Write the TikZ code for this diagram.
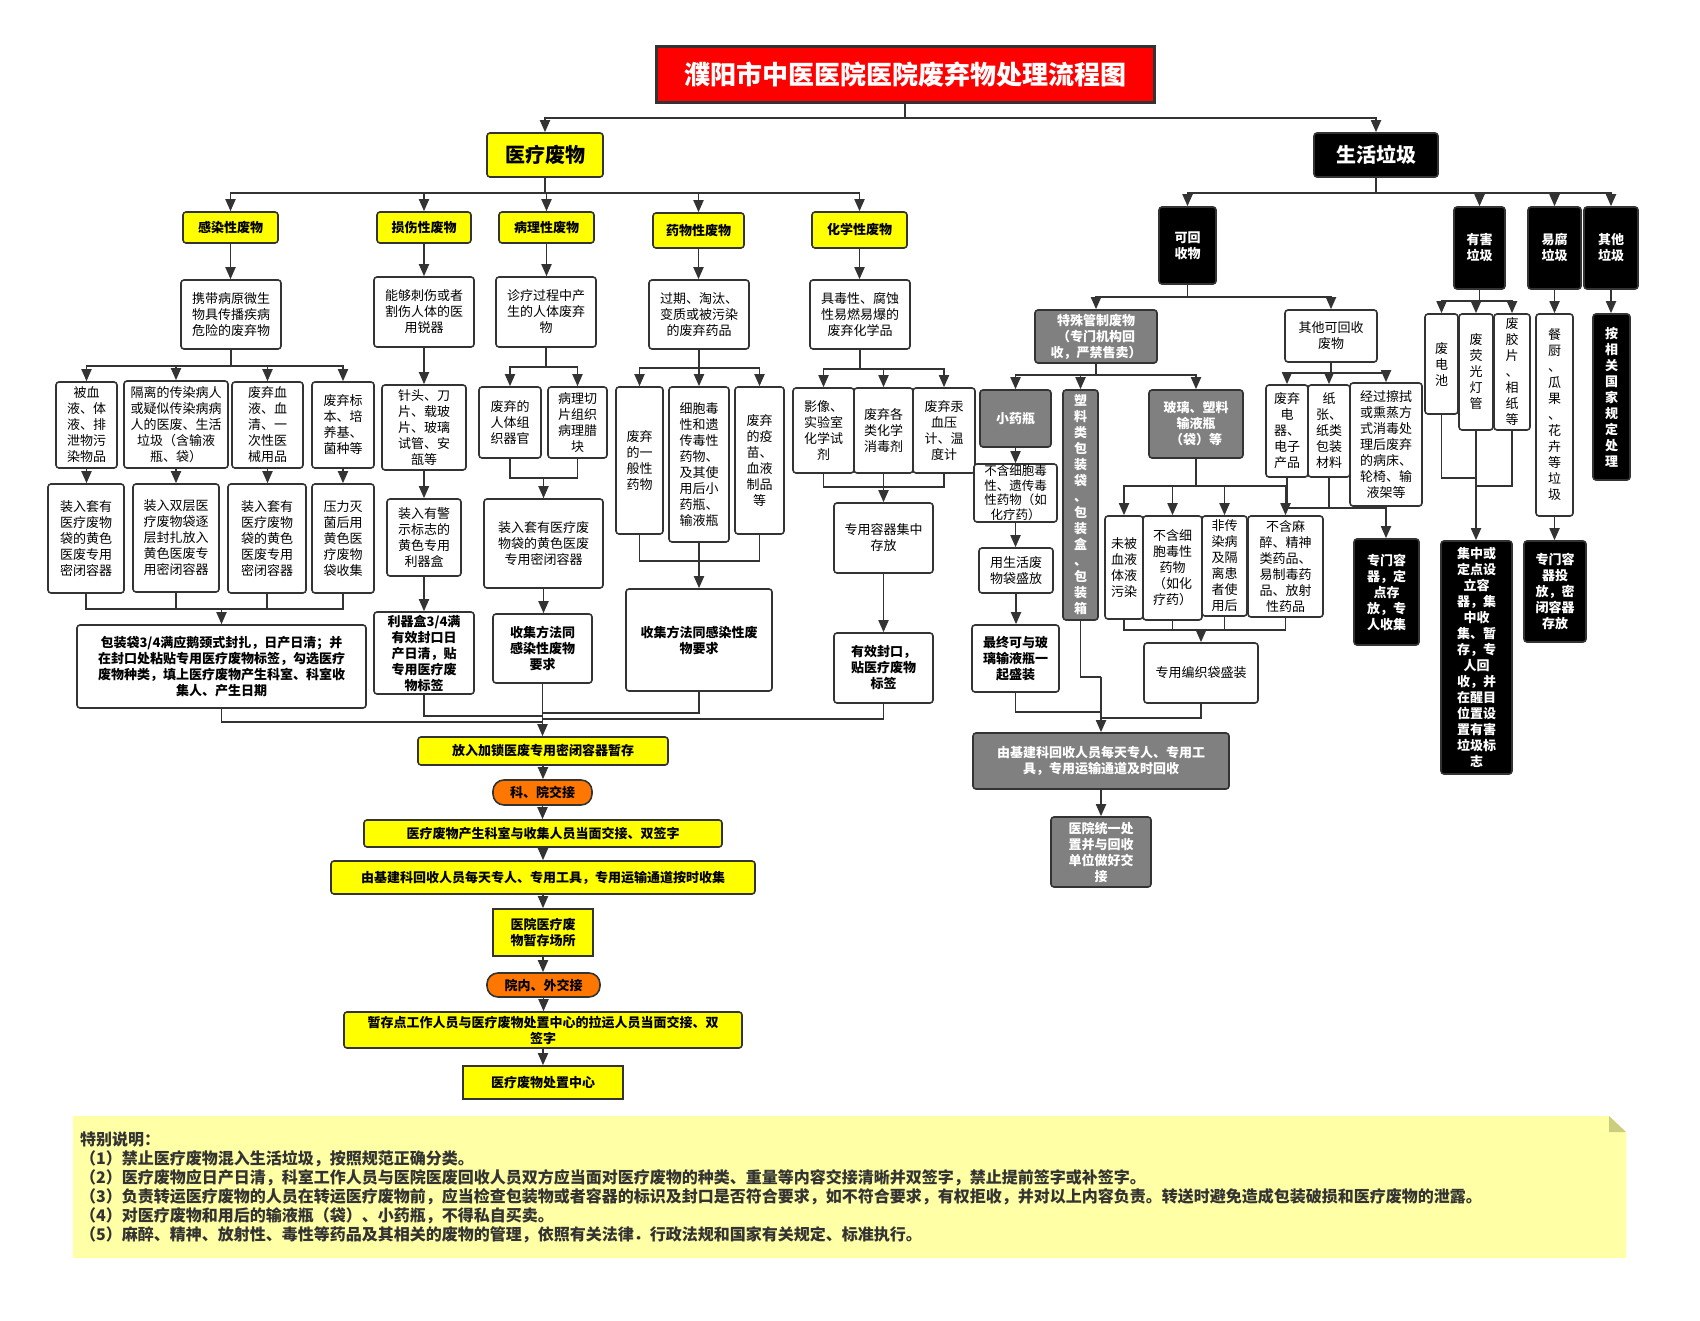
\documentclass[tikz,border=0pt]{standalone}
\usepackage{fontspec}
\setmainfont{Noto Sans CJK SC}
\usetikzlibrary{arrows.meta}
\definecolor{bdr}{HTML}{333333}
\definecolor{yel}{HTML}{FFFF00}
\definecolor{org}{HTML}{FF7700}
\definecolor{gry}{HTML}{808080}
\definecolor{notebg}{HTML}{FFFFA5}
\definecolor{foldc}{HTML}{CDCD80}
\newcommand\Bx[7]{%
 \pgfmathsetmacro\bxw{#5-#3}\pgfmathsetmacro\bxh{#6-#4}%
 \pgfmathsetmacro\bxcx{(#3+#5)/2}\pgfmathsetmacro\bxcy{(#4+#6)/2}%
 \node[#1, minimum width=\bxw pt, minimum height=\bxh pt] (#2) at (\bxcx,\bxcy) {#7};}
\tikzset{
 base/.style={draw=bdr, line width=1.6pt, rounded corners=3pt, align=center, inner sep=1pt, text=black, font=\fontsize{13}{16}\selectfont},
 wb/.style={base, fill=white},
 wbb/.style={base, fill=white, font=\fontsize{13}{16}\selectfont\bfseries},
 yb/.style={base, fill=yel, font=\fontsize{13}{16}\selectfont\bfseries},
 blk/.style={base, fill=black, text=white, font=\fontsize{13}{16}\selectfont\bfseries},
 gb/.style={base, fill=gry, text=white, font=\fontsize{13}{16}\selectfont\bfseries},
 ob/.style={base, fill=org, rounded corners=11pt, font=\fontsize{13}{16}\selectfont\bfseries},
 ln/.style={draw=bdr, line width=1.8pt},
 ar/.style={ln, -{Triangle[width=10pt,length=12pt]}},
}
\begin{document}
\begin{tikzpicture}[x=1pt,y=-1pt]
\fill[white] (0,0) rectangle (1700,1321);
\useasboundingbox (0,0) rectangle (1700,1321);

% ---------- top ----------
\Bx{base, fill=red, rounded corners=0pt, line width=3pt, text=white, font=\fontsize{26}{30}\selectfont\bfseries}{title}{656}{47}{1154}{103}{濮阳市中医医院医院废弃物处理流程图}
\Bx{yb, font=\fontsize{20}{24}\selectfont\bfseries}{med}{487}{133}{603}{177}{医疗废物}
\Bx{blk, font=\fontsize{20}{24}\selectfont\bfseries}{life}{1314}{133}{1438}{177}{生活垃圾}

% ---------- medical level 2 ----------
\Bx{yb}{A}{183}{212}{278}{243}{感染性废物}
\Bx{yb}{B}{377}{212}{471}{243}{损伤性废物}
\Bx{yb}{C}{499}{212}{594}{243}{病理性废物}
\Bx{yb}{D}{653}{213}{744}{248}{药物性废物}
\Bx{yb}{E}{812}{212}{907}{248}{化学性废物}

\Bx{wb}{A1}{181}{280}{281}{349}{携带病原微生\\物具传播疾病\\危险的废弃物}
\Bx{wb}{B1}{374}{277}{474}{347}{能够刺伤或者\\割伤人体的医\\用锐器}
\Bx{wb}{C1}{496}{277}{596}{347}{诊疗过程中产\\生的人体废弃\\物}
\Bx{wb}{D1}{649}{280}{749}{349}{过期、淘汰、\\变质或被污染\\的废弃药品}
\Bx{wb}{E1}{810}{280}{910}{349}{具毒性、腐蚀\\性易燃易爆的\\废弃化学品}

% infectious
\Bx{wb}{A2a}{56}{382}{117}{468}{被血\\液、体\\液、排\\泄物污\\染物品}
\Bx{wb}{A2b}{124}{381}{228}{468}{隔离的传染病人\\或疑似传染病病\\人的医废、生活\\垃圾（含输液\\瓶、袋）}
\Bx{wb}{A2c}{232}{382}{303}{468}{废弃血\\液、血\\清、一\\次性医\\械用品}
\Bx{wb}{A2d}{312}{382}{374}{468}{废弃标\\本、培\\养基、\\菌种等}
\Bx{wb}{A3a}{48}{484}{124}{593}{装入套有\\医疗废物\\袋的黄色\\医废专用\\密闭容器}
\Bx{wb}{A3b}{133}{484}{219}{592}{装入双层医\\疗废物袋逐\\层封扎放入\\黄色医废专\\用密闭容器}
\Bx{wb}{A3c}{228}{484}{306}{593}{装入套有\\医疗废物\\袋的黄色\\医废专用\\密闭容器}
\Bx{wb}{A3d}{312}{484}{374}{593}{压力灭\\菌后用\\黄色医\\疗废物\\袋收集}
\Bx{wbb}{A4}{77}{625}{366}{708}{包装袋3/4满应鹅颈式封扎，日产日清；并\\在封口处粘贴专用医疗废物标签，勾选医疗\\废物种类，填上医疗废物产生科室、科室收\\集人、产生日期}

% sharps
\Bx{wb}{B2}{382}{385}{466}{470}{针头、刀\\片、载玻\\片、玻璃\\试管、安\\瓿等}
\Bx{wb}{B3}{387}{499}{461}{576}{装入有警\\示标志的\\黄色专用\\利器盒}
\Bx{wbb}{B4}{374}{612}{474}{694}{利器盒3/4满\\有效封口日\\产日清，贴\\专用医疗废\\物标签}

% pathological
\Bx{wb}{C2a}{479}{387}{541}{458}{废弃的\\人体组\\织器官}
\Bx{wb}{C2b}{548}{387}{607}{458}{病理切\\片组织\\病理腊\\块}
\Bx{wb}{C3}{484}{499}{603}{588}{装入套有医疗废\\物袋的黄色医废\\专用密闭容器}
\Bx{wbb}{C4}{493}{614}{592}{683}{收集方法同\\感染性废物\\要求}

% pharmaceutical
\Bx{wb}{D2a}{616}{387}{663}{534}{废弃\\的一\\般性\\药物}
\Bx{wb}{D2b}{669}{387}{729}{542}{细胞毒\\性和遗\\传毒性\\药物、\\及其使\\用后小\\药瓶、\\输液瓶}
\Bx{wb}{D2c}{735}{387}{784}{534}{废弃\\的疫\\苗、\\血液\\制品\\等}
\Bx{wbb}{D3}{626}{589}{772}{691}{收集方法同感染性废\\物要求}

% chemical
\Bx{wb}{E2a}{793}{388}{854}{473}{影像、\\实验室\\化学试\\剂}
\Bx{wb}{E2b}{854}{388}{913}{473}{废弃各\\类化学\\消毒剂}
\Bx{wb}{E2c}{913}{388}{975}{473}{废弃汞\\血压\\计、温\\度计}
\Bx{wb}{E3}{834}{503}{933}{573}{专用容器集中\\存放}
\Bx{wbb}{E4}{834}{633}{933}{703}{有效封口，\\贴医疗废物\\标签}

% flow
\Bx{yb}{F1}{418}{737}{668}{765}{放入加锁医废专用密闭容器暂存}
\Bx{ob}{F2}{493}{780}{592}{805}{科、院交接}
\Bx{yb}{F3}{364}{820}{722}{847}{医疗废物产生科室与收集人员当面交接、双签字}
\Bx{yb}{F4}{331}{861}{755}{894}{由基建科回收人员每天专人、专用工具，专用运输通道按时收集}
\Bx{yb, rounded corners=0pt}{F5}{493}{909}{593}{956}{医院医疗废\\物暂存场所}
\Bx{ob}{F6}{487}{973}{600}{997}{院内、外交接}
\Bx{yb}{F7}{344}{1012}{742}{1048}{暂存点工作人员与医疗废物处置中心的拉运人员当面交接、双\\签字}
\Bx{yb, rounded corners=0pt}{F8}{463}{1066}{623}{1099}{医疗废物处置中心}

% ---------- domestic ----------
\Bx{blk}{R1}{1159}{207}{1216}{284}{可回\\收物}
\Bx{blk}{R2}{1454}{207}{1505}{289}{有害\\垃圾}
\Bx{blk}{R3}{1528}{207}{1581}{289}{易腐\\垃圾}
\Bx{blk}{R4}{1584}{207}{1638}{289}{其他\\垃圾}

\Bx{gb}{R1a}{1035}{310}{1157}{363}{特殊管制废物\\（专门机构回\\收，严禁售卖）}
\Bx{wb}{R1b}{1285}{310}{1377}{362}{其他可回收\\废物}

\Bx{gb}{S1}{980}{390}{1051}{447}{小药瓶}
\Bx{gb}{S2}{1063}{390}{1098}{620}{塑\\料\\类\\包\\装\\袋\\、\\包\\装\\盒\\、\\包\\装\\箱}
\Bx{gb}{S3}{1149}{390}{1243}{458}{玻璃、塑料\\输液瓶\\（袋）等}
\Bx{wb, font=\fontsize{12.5}{14.5}\selectfont}{S1a}{974}{464}{1057}{522}{不含细胞毒\\性、遗传毒\\性药物（如\\化疗药）}
\Bx{wb}{S1b}{979}{548}{1053}{593}{用生活废\\物袋盛放}
\Bx{wbb}{S1c}{972}{625}{1059}{692}{最终可与玻\\璃输液瓶一\\起盛装}
\Bx{wb}{S3a}{1105}{516}{1143}{619}{未被\\血液\\体液\\污染}
\Bx{wb}{S3b}{1143}{516}{1202}{620}{不含细\\胞毒性\\药物\\（如化\\疗药）}
\Bx{wb}{S3c}{1202}{516}{1247}{616}{非传\\染病\\及隔\\离患\\者使\\用后}
\Bx{wb}{S3d}{1248}{516}{1323}{617}{不含麻\\醉、精神\\类药品、\\易制毒药\\品、放射\\性药品}
\Bx{wb}{S3e}{1144}{643}{1258}{703}{专用编织袋盛装}
\Bx{gb}{G1}{973}{733}{1229}{789}{由基建科回收人员每天专人、专用工\\具，专用运输通道及时回收}
\Bx{gb}{G2}{1051}{817}{1151}{887}{医院统一处\\置并与回收\\单位做好交\\接}

\Bx{wb}{T1}{1266}{385}{1308}{477}{废弃\\电\\器、\\电子\\产品}
\Bx{wb}{T2}{1308}{385}{1350}{477}{纸\\张、\\纸类\\包装\\材料}
\Bx{wb}{T3}{1350}{383}{1422}{506}{经过擦拭\\或熏蒸方\\式消毒处\\理后废弃\\的病床、\\轮椅、输\\液架等}
\Bx{blk}{T4}{1354}{539}{1419}{645}{专门容\\器，定\\点存\\放，专\\人收集}

\Bx{wb}{H1}{1425}{314}{1458}{414}{废\\电\\池}
\Bx{wb}{H2}{1459}{314}{1493}{430}{废\\荧\\光\\灯\\管}
\Bx{wb}{H3}{1494}{314}{1530}{430}{废\\胶\\片\\、\\相\\纸\\等}
\Bx{blk}{H4}{1441}{541}{1512}{774}{集中或\\定点设\\立容\\器，集\\中收\\集、暂\\存，专\\人回\\收，并\\在醒目\\位置设\\置有害\\垃圾标\\志}
\Bx{wb}{Y1}{1536}{314}{1573}{516}{餐\\厨\\、\\瓜\\果\\、\\花\\卉\\等\\垃\\圾}
\Bx{blk}{Y2}{1524}{541}{1586}{642}{专门容\\器投\\放，密\\闭容器\\存放}
\Bx{blk}{Z1}{1593}{314}{1630}{480}{按\\相\\关\\国\\家\\规\\定\\处\\理}

% ---------- connectors ----------
\draw[ar] (title.south) -- (title.south |- 0,118) -| (med.north);
\draw[ar] (title.south) -- (title.south |- 0,118) -| (life.north);
\foreach \n in {A,B,C,D,E} \draw[ar] (med.south) -- (med.south |- 0,193) -| (\n.north);
\foreach \n in {R1,R2,R3,R4} \draw[ar] (life.south) -- (life.south |- 0,193) -| (\n.north);
\foreach \a/\b in {A/A1,B/B1,C/C1,D/D1,E/E1,B1/B2,B2/B3,B3/B4,C3/C4,E3/E4,
  A2a/A3a,A2b/A3b,A2c/A3c,A2d/A3d,F1/F2,F2/F3,F3/F4,F4/F5,F5/F6,F6/F7,F7/F8,
  S1/S1a,S1a/S1b,S1b/S1c,G1/G2,R3/Y1,Y1/Y2,R4/Z1,T3/T4,H2/H4,C4/F1}
  \draw[ar] (\a.south) -- (\a.south |- \b.north);
% infectious
\foreach \n in {A2a,A2b,A2c,A2d} \draw[ar] (A1.south) -- (A1.south |- 0,366) -| (\n.north);
\foreach \n in {A3a,A3b,A3c,A3d} \draw[ln] (\n.south) |- (A4.north |- 0,609);
\draw[ar] (A4.north |- 0,609) -- (A4.north);
% pathological
\foreach \n in {C2a,C2b} \draw[ar] (C1.south) -- (C1.south |- 0,367) -| (\n.north);
\foreach \n in {C2a,C2b} \draw[ln] (\n.south) |- (C3.north |- 0,478);
\draw[ar] (C3.north |- 0,478) -- (C3.north);
% pharmaceutical
\foreach \n in {D2a,D2b,D2c} \draw[ar] (D1.south) -- (D1.south |- 0,368) -| (\n.north);
\foreach \n in {D2a,D2b,D2c} \draw[ln] (\n.south) |- (D3.north |- 0,561);
\draw[ar] (D3.north |- 0,561) -- (D3.north);
% chemical
\foreach \n in {E2a,E2b,E2c} \draw[ar] (E1.south) -- (E1.south |- 0,369) -| (\n.north);
\foreach \n in {E2a,E2b,E2c} \draw[ln] (\n.south) |- (E3.north |- 0,487);
\draw[ar] (E3.north |- 0,487) -- (E3.north);
% into F1
\draw[ln] (A4.south) |- (F1.north |- 0,722);
\draw[ln] (B4.south) |- (F1.north |- 0,716);
\draw[ln] (D3.south) |- (F1.north |- 0,713);
\draw[ln] (E4.south) |- (F1.north |- 0,719);
% recyclable
\foreach \n in {R1a,R1b} \draw[ar] (R1.south) -- (R1.south |- 0,297) -| (\n.north);
\foreach \n in {S1,S2,S3} \draw[ar] (R1a.south) -- (R1a.south |- 0,375) -| (\n.north);
\foreach \n in {S3a,S3b,S3c,S3d} \draw[ar] (S3.south) -- (S3.south |- 0,486) -| (\n.north);
\foreach \n in {S3a,S3b,S3c,S3d} \draw[ln] (\n.south) |- (S3e.north |- 0,630);
\draw[ar] (S3e.north |- 0,630) -- (S3e.north);
\draw[ln] (S1c.south) |- (G1.north |- 0,712);
\draw[ln] (S2.south) |- (G1.north |- 0,677);
\draw[ln] (S3e.south) |- (G1.north |- 0,718);
\draw[ar] (G1.north |- 0,677) -- (G1.north);
\foreach \n in {T1,T2,T3} \draw[ar] (R1b.south) -- (R1b.south |- 0,373) -| (\n.north);
\foreach \n in {T1,T2} \draw[ln] (\n.south) |- (T4.north |- 0,508);
% hazardous
\foreach \n in {H1,H2,H3} \draw[ar] (R2.south) -- (R2.south |- 0,301) -| (\n.north);
\draw[ln] (H1.south) |- (H4.north |- 0,478);
\draw[ln] (H3.south) |- (H4.north |- 0,486);

% ---------- notes ----------
\fill[notebg] (73,1116) -- (1609,1116) -- (1626,1132) -- (1626,1258) -- (73,1258) -- cycle;
\fill[foldc] (1609,1116) -- (1609,1132) -- (1626,1132) -- cycle;
\node[anchor=north west, align=left, inner sep=0pt, text=bdr, font=\fontsize{16}{19}\selectfont\bfseries] (notes) at (80,1132)
 {特别说明：\\
 （1）禁止医疗废物混入生活垃圾，按照规范正确分类。\\
 （2）医疗废物应日产日清，科室工作人员与医院医废回收人员双方应当面对医疗废物的种类、重量等内容交接清晰并双签字，禁止提前签字或补签字。\\
 （3）负责转运医疗废物的人员在转运医疗废物前，应当检查包装物或者容器的标识及封口是否符合要求，如不符合要求，有权拒收，并对以上内容负责。转送时避免造成包装破损和医疗废物的泄露。\\
 （4）对医疗废物和用后的输液瓶（袋）、小药瓶，不得私自买卖。\\
 （5）麻醉、精神、放射性、毒性等药品及其相关的废物的管理，依照有关法律．行政法规和国家有关规定、标准执行。};
\end{tikzpicture}
\end{document}
